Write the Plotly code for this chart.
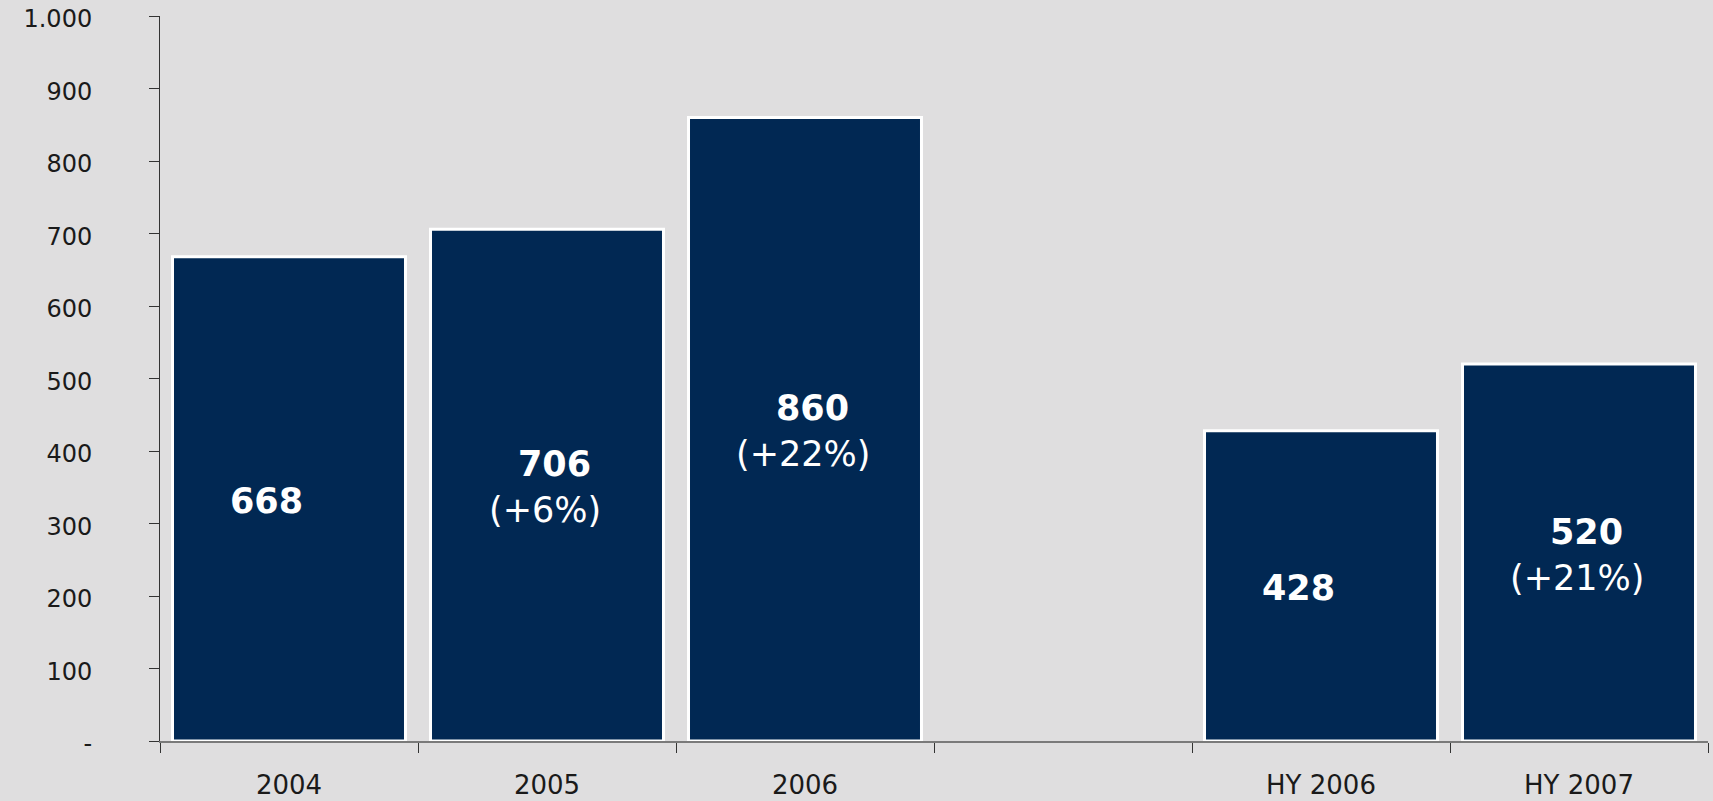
import plotly.graph_objects as go

categories = ["2004", "2005", "2006", " ", "HY 2006", "HY 2007"]
values = [668, 706, 860, None, 428, 520]
growth = ["", "+6%", "+22%", "", "", "+21%"]
y_tickvals = [0, 100, 200, 300, 400, 500, 600, 700, 800, 900, 1000]
y_ticktext = ["-", "100", "200", "300", "400", "500", "600", "700", "800", "900", "1.000"]

FONT = "DejaVu Sans, Verdana, sans-serif"

fig = go.Figure()
fig.add_trace(go.Bar(
    x=categories,
    y=values,
    marker=dict(color="#012853", line=dict(color="white", width=3)),
    hoverinfo="x+y",
))

annotations = []
for i, (v, g) in enumerate(zip(values, growth)):
    if v is None:
        continue
    common = dict(x=i, y=v / 2, xref="x", yref="y", showarrow=False,
                  yanchor="middle", xanchor="center",
                  font=dict(family=FONT, size=35, color="white"))
    if g:
        annotations.append(dict(text=f"<b>{v}</b>", xshift=7, yshift=21, **common))
        annotations.append(dict(text=f"({g})", xshift=-2, yshift=-25, **common))
    else:
        annotations.append(dict(text=f"<b>{v}</b>", xshift=-23, yshift=-2, **common))

fig.update_layout(
    width=1713, height=801,
    margin=dict(l=160, r=5, t=16, b=60),
    paper_bgcolor="#dfdedf",
    plot_bgcolor="#dfdedf",
    bargap=0.097,
    showlegend=False,
    annotations=annotations,
    xaxis=dict(
        type="category",
        tickson="boundaries",
        automargin=False,
        ticks="outside", ticklen=10, tickcolor="#333333", tickwidth=1,
        showline=True, linecolor="#7a7a7a", linewidth=2,
        showgrid=False, zeroline=False,
        tickfont=dict(family=FONT, size=26, color="#1a1a1a"),
        ticklabelstandoff=20,
        range=[-0.5, 5.5],
    ),
    yaxis=dict(
        range=[0, 1000],
        automargin=False,
        tickvals=y_tickvals, ticktext=y_ticktext,
        ticks="outside", ticklen=10, tickcolor="#333333", tickwidth=1,
        showline=True, linecolor="#333333", linewidth=1,
        showgrid=False, zeroline=False,
        tickfont=dict(family=FONT, size=24, color="#1a1a1a"),
        ticklabelstandoff=52,
        ticklabelshift=3,
    ),
)

fig.write_html(
    "out.html",
    config={"displayModeBar": False},
    post_script="document.body.style.margin='0';document.body.style.background='#dfdedf';",
)
